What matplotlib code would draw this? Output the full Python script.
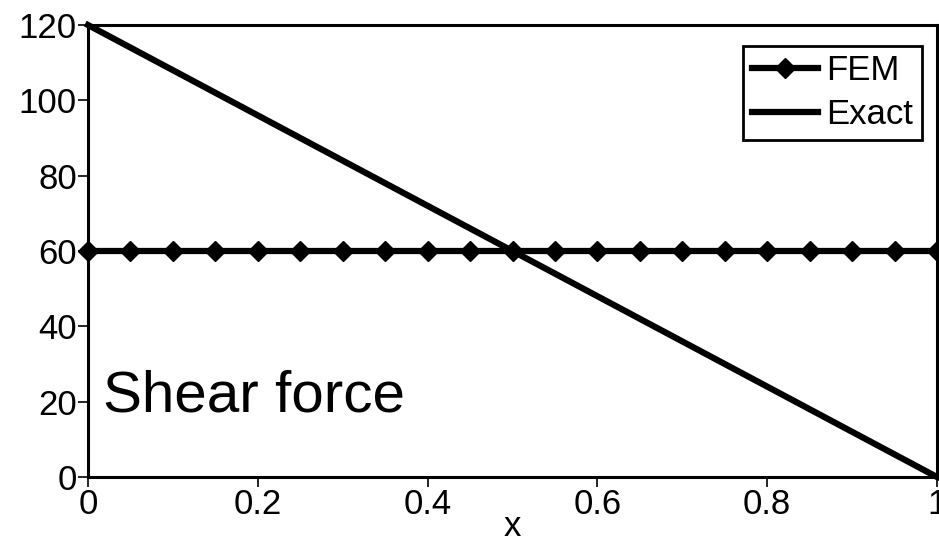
import matplotlib
matplotlib.use("Agg")
import matplotlib.pyplot as plt
import numpy as np

plt.rcParams['font.family'] = ['Liberation Sans', 'DejaVu Sans']

# FEM nodal shear (constant) vs exact linear shear
x_fem = [0, 0.05, 0.1, 0.15, 0.2, 0.25, 0.3, 0.35, 0.4, 0.45, 0.5,
         0.55, 0.6, 0.65, 0.7, 0.75, 0.8, 0.85, 0.9, 0.95, 1.0]
v_fem = [60] * len(x_fem)
x_exact = [0, 1]
v_exact = [120, 0]

xticks = [0, 0.2, 0.4, 0.6, 0.8, 1]
xticklabels = ['0', '0.2', '0.4', '0.6', '0.8', '1']
yticks = [0, 20, 40, 60, 80, 100, 120]

fig = plt.figure(figsize=(9.39, 5.43), dpi=100)
ax = fig.add_axes([0.0937, 0.1215, 0.9042, 0.8325])

ax.plot(x_fem, v_fem, color='black', lw=4.5, marker='D', ms=10,
        mec='black', mfc='black', label='FEM', clip_on=False, zorder=3)
ax.plot(x_exact, v_exact, color='black', lw=4.5, label='Exact',
        clip_on=False, zorder=3)

ax.set_xlim(0, 1)
ax.set_ylim(0, 120)
ax.set_xticks(xticks)
ax.set_xticklabels(xticklabels)
ax.set_yticks(yticks)
ax.tick_params(axis='both', direction='out', length=7, width=1.2,
               labelsize=25, pad=1, top=False, right=False)
for s in ax.spines.values():
    s.set_linewidth(2.2)

ax.set_xlabel('x', fontsize=25, labelpad=-8)

ax.text(0.018, 0.144, 'Shear force', transform=ax.transAxes,
        fontsize=42, ha='left', va='baseline')

leg = ax.legend(loc='upper right', fontsize=25, frameon=True, fancybox=False,
                edgecolor='black', framealpha=1, borderpad=0.25,
                handlelength=1.9, handletextpad=0.25, labelspacing=0.3,
                borderaxespad=0, bbox_to_anchor=(0.982, 0.954))
leg.get_frame().set_linewidth(2)

fig.savefig('out.png', dpi=100)
